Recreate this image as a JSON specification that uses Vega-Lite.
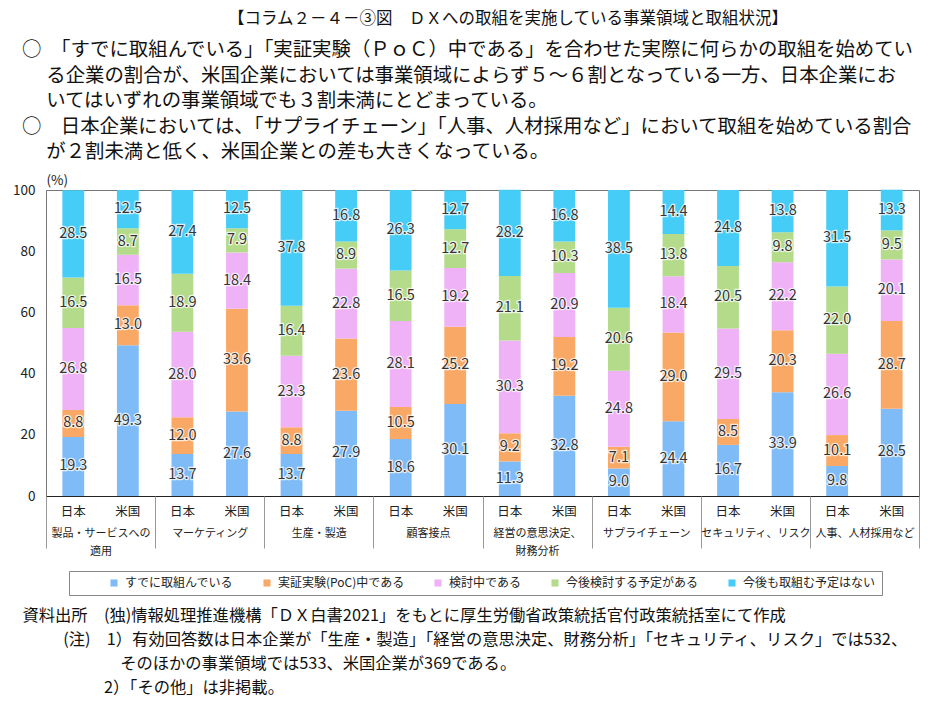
{
  "$schema": "https://vega.github.io/schema/vega-lite/v6.json",
  "padding": {"top": 10, "left": 12, "right": 5, "bottom": 5},
  "config": {
    "font": "Noto Sans CJK JP",
    "view": {"stroke": "#777", "strokeWidth": 1},
    "concat": {"spacing": 0},
    "title": {"fontWeight": "normal", "color": "#111", "font": "Noto Sans CJK JP"},
    "axisY": {
      "ticks": false, "grid": false, "domain": false, "labelPadding": 11, "labelFontSize": 13.5,
      "labelColor": "#222", "tickCount": 5, "titleAngle": 0, "titleAlign": "left", "titleBaseline": "bottom",
      "titleX": 0, "titleY": -3, "titleFontSize": 13.5, "titleFontWeight": "normal", "titleColor": "#222"
    }
  },
  "title": {
    "text": "【コラム２－４－③図　ＤＸへの取組を実施している事業領域と取組状況】",
    "anchor": "middle", "fontSize": 16.5, "dx": 42, "offset": 13
  },
  "vconcat": [
    {
      "title": {
        "text": [
          "○　「すでに取組んでいる」「実証実験（ＰｏＣ）中である」を合わせた実際に何らかの取組を始めてい",
          "\u200b\u3000\u2005る企業の割合が、米国企業においては事業領域によらず５～６割となっている一方、日本企業にお",
          "\u200b\u3000\u2005いてはいずれの事業領域でも３割未満にとどまっている。",
          "○　日本企業においては、「サプライチェーン」「人事、人材採用など」において取組を始めている割合",
          "\u200b\u3000\u2005が２割未満と低く、米国企業との差も大きくなっている。"
        ],
        "anchor": "start", "fontSize": 19.4, "lineHeight": 25.5, "dx": 10, "offset": 10
      },
      "vconcat": [
        {
          "title": {
            "text": [
              "資料出所　(独)情報処理推進機構「ＤＸ白書2021」をもとに厚生労働省政策統括官付政策統括室にて作成",
              "\u200b\u3000\u3000\u2002(注)\u30001）有効回答数は日本企業が「生産・製造」「経営の意思決定、財務分析」「セキュリティ、リスク」では532、",
              "\u200b\u3000\u3000\u3000\u3000\u3000\u3000そのほかの事業領域では533、米国企業が369である。",
              "\u200b\u3000\u3000\u3000\u3000\u30002）「その他」は非掲載。"
            ],
            "orient": "bottom", "anchor": "start", "fontSize": 16.3, "lineHeight": 24, "dx": 10, "offset": 52
          },
          "width": 873,
          "height": 306,
          "data": {
            "values": [
              {"c": "製品・サービスへの適用", "n": "日本", "s": "すでに取組んでいる", "v": 19.3},
              {"c": "製品・サービスへの適用", "n": "日本", "s": "実証実験(PoC)中である", "v": 8.8},
              {"c": "製品・サービスへの適用", "n": "日本", "s": "検討中である", "v": 26.8},
              {"c": "製品・サービスへの適用", "n": "日本", "s": "今後検討する予定がある", "v": 16.5},
              {"c": "製品・サービスへの適用", "n": "日本", "s": "今後も取組む予定はない", "v": 28.5},
              {"c": "製品・サービスへの適用", "n": "米国", "s": "すでに取組んでいる", "v": 49.3},
              {"c": "製品・サービスへの適用", "n": "米国", "s": "実証実験(PoC)中である", "v": 13.0},
              {"c": "製品・サービスへの適用", "n": "米国", "s": "検討中である", "v": 16.5},
              {"c": "製品・サービスへの適用", "n": "米国", "s": "今後検討する予定がある", "v": 8.7},
              {"c": "製品・サービスへの適用", "n": "米国", "s": "今後も取組む予定はない", "v": 12.5},
              {"c": "マーケティング", "n": "日本", "s": "すでに取組んでいる", "v": 13.7},
              {"c": "マーケティング", "n": "日本", "s": "実証実験(PoC)中である", "v": 12.0},
              {"c": "マーケティング", "n": "日本", "s": "検討中である", "v": 28.0},
              {"c": "マーケティング", "n": "日本", "s": "今後検討する予定がある", "v": 18.9},
              {"c": "マーケティング", "n": "日本", "s": "今後も取組む予定はない", "v": 27.4},
              {"c": "マーケティング", "n": "米国", "s": "すでに取組んでいる", "v": 27.6},
              {"c": "マーケティング", "n": "米国", "s": "実証実験(PoC)中である", "v": 33.6},
              {"c": "マーケティング", "n": "米国", "s": "検討中である", "v": 18.4},
              {"c": "マーケティング", "n": "米国", "s": "今後検討する予定がある", "v": 7.9},
              {"c": "マーケティング", "n": "米国", "s": "今後も取組む予定はない", "v": 12.5},
              {"c": "生産・製造", "n": "日本", "s": "すでに取組んでいる", "v": 13.7},
              {"c": "生産・製造", "n": "日本", "s": "実証実験(PoC)中である", "v": 8.8},
              {"c": "生産・製造", "n": "日本", "s": "検討中である", "v": 23.3},
              {"c": "生産・製造", "n": "日本", "s": "今後検討する予定がある", "v": 16.4},
              {"c": "生産・製造", "n": "日本", "s": "今後も取組む予定はない", "v": 37.8},
              {"c": "生産・製造", "n": "米国", "s": "すでに取組んでいる", "v": 27.9},
              {"c": "生産・製造", "n": "米国", "s": "実証実験(PoC)中である", "v": 23.6},
              {"c": "生産・製造", "n": "米国", "s": "検討中である", "v": 22.8},
              {"c": "生産・製造", "n": "米国", "s": "今後検討する予定がある", "v": 8.9},
              {"c": "生産・製造", "n": "米国", "s": "今後も取組む予定はない", "v": 16.8},
              {"c": "顧客接点", "n": "日本", "s": "すでに取組んでいる", "v": 18.6},
              {"c": "顧客接点", "n": "日本", "s": "実証実験(PoC)中である", "v": 10.5},
              {"c": "顧客接点", "n": "日本", "s": "検討中である", "v": 28.1},
              {"c": "顧客接点", "n": "日本", "s": "今後検討する予定がある", "v": 16.5},
              {"c": "顧客接点", "n": "日本", "s": "今後も取組む予定はない", "v": 26.3},
              {"c": "顧客接点", "n": "米国", "s": "すでに取組んでいる", "v": 30.1},
              {"c": "顧客接点", "n": "米国", "s": "実証実験(PoC)中である", "v": 25.2},
              {"c": "顧客接点", "n": "米国", "s": "検討中である", "v": 19.2},
              {"c": "顧客接点", "n": "米国", "s": "今後検討する予定がある", "v": 12.7},
              {"c": "顧客接点", "n": "米国", "s": "今後も取組む予定はない", "v": 12.7},
              {"c": "経営の意思決定、財務分析", "n": "日本", "s": "すでに取組んでいる", "v": 11.3},
              {"c": "経営の意思決定、財務分析", "n": "日本", "s": "実証実験(PoC)中である", "v": 9.2},
              {"c": "経営の意思決定、財務分析", "n": "日本", "s": "検討中である", "v": 30.3},
              {"c": "経営の意思決定、財務分析", "n": "日本", "s": "今後検討する予定がある", "v": 21.1},
              {"c": "経営の意思決定、財務分析", "n": "日本", "s": "今後も取組む予定はない", "v": 28.2},
              {"c": "経営の意思決定、財務分析", "n": "米国", "s": "すでに取組んでいる", "v": 32.8},
              {"c": "経営の意思決定、財務分析", "n": "米国", "s": "実証実験(PoC)中である", "v": 19.2},
              {"c": "経営の意思決定、財務分析", "n": "米国", "s": "検討中である", "v": 20.9},
              {"c": "経営の意思決定、財務分析", "n": "米国", "s": "今後検討する予定がある", "v": 10.3},
              {"c": "経営の意思決定、財務分析", "n": "米国", "s": "今後も取組む予定はない", "v": 16.8},
              {"c": "サプライチェーン", "n": "日本", "s": "すでに取組んでいる", "v": 9.0},
              {"c": "サプライチェーン", "n": "日本", "s": "実証実験(PoC)中である", "v": 7.1},
              {"c": "サプライチェーン", "n": "日本", "s": "検討中である", "v": 24.8},
              {"c": "サプライチェーン", "n": "日本", "s": "今後検討する予定がある", "v": 20.6},
              {"c": "サプライチェーン", "n": "日本", "s": "今後も取組む予定はない", "v": 38.5},
              {"c": "サプライチェーン", "n": "米国", "s": "すでに取組んでいる", "v": 24.4},
              {"c": "サプライチェーン", "n": "米国", "s": "実証実験(PoC)中である", "v": 29.0},
              {"c": "サプライチェーン", "n": "米国", "s": "検討中である", "v": 18.4},
              {"c": "サプライチェーン", "n": "米国", "s": "今後検討する予定がある", "v": 13.8},
              {"c": "サプライチェーン", "n": "米国", "s": "今後も取組む予定はない", "v": 14.4},
              {"c": "セキュリティ、リスク", "n": "日本", "s": "すでに取組んでいる", "v": 16.7},
              {"c": "セキュリティ、リスク", "n": "日本", "s": "実証実験(PoC)中である", "v": 8.5},
              {"c": "セキュリティ、リスク", "n": "日本", "s": "検討中である", "v": 29.5},
              {"c": "セキュリティ、リスク", "n": "日本", "s": "今後検討する予定がある", "v": 20.5},
              {"c": "セキュリティ、リスク", "n": "日本", "s": "今後も取組む予定はない", "v": 24.8},
              {"c": "セキュリティ、リスク", "n": "米国", "s": "すでに取組んでいる", "v": 33.9},
              {"c": "セキュリティ、リスク", "n": "米国", "s": "実証実験(PoC)中である", "v": 20.3},
              {"c": "セキュリティ、リスク", "n": "米国", "s": "検討中である", "v": 22.2},
              {"c": "セキュリティ、リスク", "n": "米国", "s": "今後検討する予定がある", "v": 9.8},
              {"c": "セキュリティ、リスク", "n": "米国", "s": "今後も取組む予定はない", "v": 13.8},
              {"c": "人事、人材採用など", "n": "日本", "s": "すでに取組んでいる", "v": 9.8},
              {"c": "人事、人材採用など", "n": "日本", "s": "実証実験(PoC)中である", "v": 10.1},
              {"c": "人事、人材採用など", "n": "日本", "s": "検討中である", "v": 26.6},
              {"c": "人事、人材採用など", "n": "日本", "s": "今後検討する予定がある", "v": 22.0},
              {"c": "人事、人材採用など", "n": "日本", "s": "今後も取組む予定はない", "v": 31.5},
              {"c": "人事、人材採用など", "n": "米国", "s": "すでに取組んでいる", "v": 28.5},
              {"c": "人事、人材採用など", "n": "米国", "s": "実証実験(PoC)中である", "v": 28.7},
              {"c": "人事、人材採用など", "n": "米国", "s": "検討中である", "v": 20.1},
              {"c": "人事、人材採用など", "n": "米国", "s": "今後検討する予定がある", "v": 9.5},
              {"c": "人事、人材採用など", "n": "米国", "s": "今後も取組む予定はない", "v": 13.3}
            ]
          },
          "transform": [
            {"calculate": "datum.c + '|' + datum.n", "as": "k"},
            {"calculate": "indexof(['すでに取組んでいる','実証実験(PoC)中である','検討中である','今後検討する予定がある','今後も取組む予定はない'], datum.s)", "as": "so"},
            {"stack": "v", "groupby": ["k"], "sort": [{"field": "so", "order": "ascending"}], "as": ["y0", "y1"]},
            {"calculate": "(datum.y0 + datum.y1) / 2", "as": "ym"}
          ],
          "layer": [
            {
              "encoding": {
                "x": {
                  "field": "k", "type": "nominal", "sort": null,
                  "scale": {"type": "band", "paddingInner": 0.6, "paddingOuter": 0.3},
                  "axis": {
                    "orient": "bottom", "title": null, "ticks": false, "domain": true, "domainColor": "#222",
                    "labelPadding": 9, "labelAngle": 0, "labelFontSize": 12.5, "labelColor": "#222",
                    "labelExpr": "split(datum.value, '|')[1]", "zindex": 1
                  }
                }
              },
              "layer": [
                {
                  "mark": {"type": "bar"},
                  "encoding": {
                    "y": {"field": "y0", "type": "quantitative", "title": "(%)", "scale": {"domain": [0, 100], "nice": false}},
                    "y2": {"field": "y1"},
                    "color": {
                      "field": "s", "type": "nominal",
                      "scale": {
                        "domain": ["すでに取組んでいる", "実証実験(PoC)中である", "検討中である", "今後検討する予定がある", "今後も取組む予定はない"],
                        "range": ["#7FBCF7", "#F9A866", "#EFB2F7", "#B3DB8A", "#45CCF7"]
                      },
                      "legend": {
                        "orient": "none", "legendX": 23, "legendY": 381, "direction": "horizontal",
                        "title": "ああ", "titleOrient": "left", "titlePadding": 8, "titleFontSize": 12, "titleOpacity": 0,
                        "columnPadding": 27, "symbolType": "square", "symbolSize": 50, "symbolStrokeWidth": 0,
                        "labelFontSize": 12, "labelOffset": 5, "labelColor": "#222",
                        "strokeColor": "#888", "padding": 6
                      }
                    }
                  }
                },
                {
                  "mark": {"type": "text", "fontSize": 14.5, "fill": "white", "stroke": "white", "strokeWidth": 2.5, "strokeOpacity": 0.75, "baseline": "middle"},
                  "encoding": {
                    "y": {"field": "ym", "type": "quantitative", "title": "(%)"},
                    "text": {"field": "v", "type": "quantitative", "format": ".1f"}
                  }
                },
                {
                  "mark": {"type": "text", "fontSize": 14.5, "fill": "#333", "baseline": "middle"},
                  "encoding": {
                    "y": {"field": "ym", "type": "quantitative", "title": "(%)"},
                    "text": {"field": "v", "type": "quantitative", "format": ".1f"}
                  }
                }
              ]
            },
            {
              "mark": {"type": "rule", "opacity": 0},
              "encoding": {
                "x": {
                  "field": "c", "type": "nominal", "sort": null,
                  "scale": {"type": "band", "paddingInner": 0, "paddingOuter": 0},
                  "axis": {
                    "orient": "bottom", "title": null, "tickBand": "extent", "tickSize": 52, "tickColor": "#999",
                    "domain": false, "labelPadding": -21, "labelAngle": 0, "labelFontSize": 11, "labelLineHeight": 18,
                    "labelColor": "#222", "zindex": 1,
                    "labelExpr": "datum.value == '製品・サービスへの適用' ? ['製品・サービスへの', '適用'] : datum.value == '経営の意思決定、財務分析' ? ['経営の意思決定、', '財務分析'] : datum.value"
                  }
                }
              }
            }
          ],
          "resolve": {"scale": {"x": "independent"}}
        }
      ]
    }
  ]
}
